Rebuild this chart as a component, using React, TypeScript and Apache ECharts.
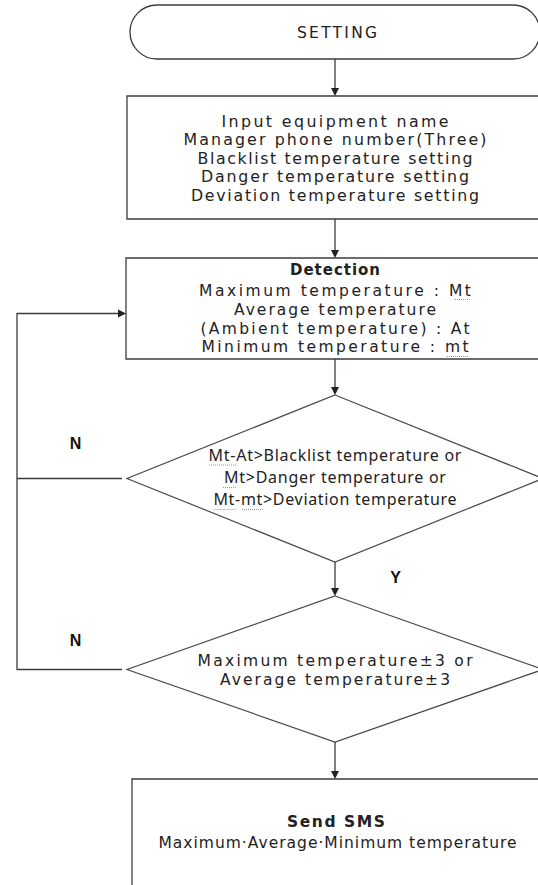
import React, { useEffect, useRef } from "react";
import * as echarts from "echarts";

// ---- texts of the flowchart ----
const terminatorLabel = ["SETTING"];
const settingLines = [
  "Input equipment name",
  "Manager phone number(Three)",
  "Blacklist temperature setting",
  "Danger temperature setting",
  "Deviation temperature setting",
];
const detectionTitle = ["Detection"];
const detectionLines = [
  "Maximum temperature : Mt",
  "Average temperature",
  "(Ambient temperature) : At",
  "Minimum temperature : mt",
];
const condition1Lines = [
  "Mt-At>Blacklist temperature or",
  "Mt>Danger temperature or",
  "Mt-mt>Deviation temperature",
];
const condition2Lines = ["Maximum temperature±3 or", "Average temperature±3"];
const smsTitle = ["Send SMS"];
const smsLines = ["Maximum·Average·Minimum temperature"];
const noLabel = "N";
const yesLabel = "Y";

// ---- layout ----
const CX = 335;
const FAMILY = '"Noto Sans", sans-serif';
const TIGHT_FAMILY = '"DejaVu Sans", sans-serif';
const LABEL_FAMILY = '"Liberation Sans", Arial, sans-serif';
const LINE = "#3c3c3c";
const TXT = "#222";

let measureCtx: CanvasRenderingContext2D | null = null;
function measure(t: string, size: number, weight: string, family: string) {
  if (!measureCtx) measureCtx = document.createElement("canvas").getContext("2d");
  measureCtx!.font = `${weight} ${size}px ${family}`;
  return measureCtx!.measureText(t).width || 1;
}

const spacingMap: Record<string, number> = {};

function textEl(t: string, x: number, y: number, w: number, size: number, weight = "normal", family = FAMILY, color = TXT) {
  const n = Array.from(t).length;
  const mw = measure(t, size, weight, family);
  const ls = n > 1 ? (w - mw) / (n - 1) : 0;
  spacingMap[t] = ls;
  return {
    type: "text",
    x: x + ls / 2,
    y,
    silent: true,
    style: {
      text: t,
      fill: color,
      fontSize: size,
      fontWeight: weight,
      fontFamily: family,
      lineHeight: Math.round(size * 1.1),
      textAlign: "center",
      textVerticalAlign: "middle",
      align: "center",
      verticalAlign: "middle",
    },
  };
}

function vArrow(x: number, y1: number, y2: number) {
  return [
    { type: "line", shape: { x1: x, y1, x2: x, y2: y2 - 6 }, style: { stroke: LINE, lineWidth: 1.3 } },
    { type: "polygon", shape: { points: [[x - 4, y2 - 8], [x + 4, y2 - 8], [x, y2]] }, style: { fill: "#222" } },
  ];
}

function squiggle(x1: number, x2: number, y: number) {
  return {
    type: "line",
    shape: { x1, y1: y, x2, y2: y },
    style: { stroke: "#e0883a", lineWidth: 1, lineDash: [1, 1] },
  };
}

export default function App() {
  const ref = useRef<HTMLDivElement>(null);
  useEffect(() => {
    if (!ref.current) return;
    const chart = echarts.init(ref.current, undefined, { renderer: "svg" });

    const els: any[] = [];
    // Terminator
    els.push({ type: "rect", shape: { x: 130, y: 5, width: 410, height: 54, r: 27 }, style: { fill: "#fff", stroke: LINE, lineWidth: 1.3 } });
    els.push(textEl(terminatorLabel[0], CX + 2, 32.5, 80, 15.5, "normal", TIGHT_FAMILY));
    els.push(...vArrow(CX, 59, 96));

    // Box 1
    els.push({ type: "rect", shape: { x: 127, y: 96, width: 420, height: 123 }, style: { fill: "#fff", stroke: LINE, lineWidth: 1.3 } });
    const s1W = [227, 303, 275, 268, 288];
    const s1Y = [121, 139.5, 158, 176.5, 195];
    settingLines.forEach((t, i) => els.push(textEl(t, CX, s1Y[i], s1W[i], 15.8, "normal", TIGHT_FAMILY)));
    els.push(...vArrow(CX, 219, 258));

    // Box 2
    els.push({ type: "rect", shape: { x: 126, y: 258, width: 420, height: 101 }, style: { fill: "#fff", stroke: LINE, lineWidth: 1.3 } });
    els.push(textEl(detectionTitle[0], CX, 270, 90, 15, "bold", TIGHT_FAMILY));
    const dW = [272, 202, 269, 267];
    const dY = [290.5, 309.5, 328.5, 347];
    detectionLines.forEach((t, i) => els.push(textEl(t, CX, dY[i], dW[i], 15.5, "normal", TIGHT_FAMILY)));
    els.push(squiggle(455, 470, 299.5));
    els.push(squiggle(447, 468, 356.5));
    els.push(...vArrow(CX, 359, 395));

    // Diamond 1
    els.push({ type: "polygon", shape: { points: [[CX, 395], [543, 478.5], [CX, 562], [127, 478.5]] }, style: { fill: "#fff", stroke: "#4a4a4a", lineWidth: 1.2 } });
    const c1W = [253, 222, 243];
    const c1Y = [455, 477, 499];
    condition1Lines.forEach((t, i) => els.push(textEl(t, CX, c1Y[i], c1W[i], 16)));
    els.push(squiggle(209, 236, 465));
    els.push(squiggle(223, 237, 487.5));
    els.push(squiggle(213.5, 236, 509.5));
    els.push(squiggle(242, 264, 509.5));
    els.push(...vArrow(CX, 562, 596));

    // Diamond 2
    els.push({ type: "polygon", shape: { points: [[CX, 596], [543, 669.5], [CX, 742], [127, 669.5]] }, style: { fill: "#fff", stroke: "#4a4a4a", lineWidth: 1.2 } });
    const c2W = [275, 230];
    const c2Y = [660.5, 680];
    condition2Lines.forEach((t, i) => els.push(textEl(t, CX, c2Y[i], c2W[i], 15.5, "normal", TIGHT_FAMILY)));
    els.push(...vArrow(CX, 742, 779));

    // Box 3
    els.push({ type: "rect", shape: { x: 132, y: 779, width: 420, height: 160 }, style: { fill: "#fff", stroke: LINE, lineWidth: 1.3 } });
    els.push(textEl(smsTitle[0], CX + 1, 821.5, 98, 15.5, "bold", TIGHT_FAMILY));
    els.push(textEl(smsLines[0], 337.5, 842.5, 358, 15.5, "normal", TIGHT_FAMILY));

    // Feedback lines
    els.push({ type: "polyline", shape: { points: [[122, 478.5], [17, 478.5]] }, style: { stroke: LINE, lineWidth: 1.3, fill: null } });
    els.push({ type: "polyline", shape: { points: [[122, 669.5], [17, 669.5], [17, 313.5], [120, 313.5]] }, style: { stroke: LINE, lineWidth: 1.3, fill: null } });
    els.push({ type: "polygon", shape: { points: [[118, 309.5], [118, 317.5], [126, 313.5]] }, style: { fill: "#222" } });

    // Branch labels
    els.push(textEl(noLabel, 75.5, 443, 11, 16, "bold", LABEL_FAMILY, "#111"));
    els.push(textEl(noLabel, 75.5, 640, 11, 16, "bold", LABEL_FAMILY, "#111"));
    els.push(textEl(yesLabel, 395.5, 577, 11, 16, "bold", LABEL_FAMILY, "#111"));

    chart.setOption({
      animation: false,
      backgroundColor: "#fff",
      graphic: { elements: els },
    });

    const applySpacing = () => {
      if (!ref.current) return;
      ref.current.querySelectorAll("text").forEach((node) => {
        const key = node.textContent || "";
        const ls = spacingMap[key];
        if (ls !== undefined && Math.abs(ls) > 0.01) {
          node.setAttribute("letter-spacing", ls.toFixed(2) + "px");
          (node as any).style.letterSpacing = ls.toFixed(2) + "px";
        }
      });
    };
    applySpacing();
    chart.on("finished", applySpacing);
    const t1 = window.setTimeout(applySpacing, 50);
    const t2 = window.setTimeout(applySpacing, 300);
    return () => {
      window.clearTimeout(t1);
      window.clearTimeout(t2);
      chart.dispose();
    };
  }, []);
  return (
    <div
      ref={ref}
      style={{ position: "fixed", left: 0, top: 0, width: 538, height: 885, background: "#fff" }}
    />
  );
}
